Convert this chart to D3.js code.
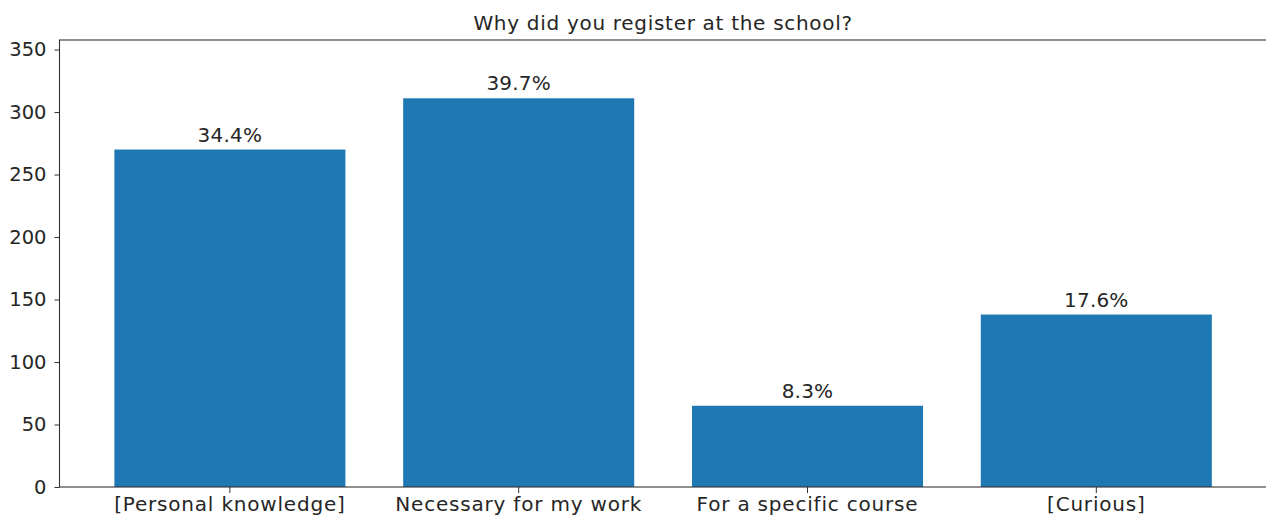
<!DOCTYPE html>
<html>
<head>
<meta charset="utf-8">
<script src="https://cdn.jsdelivr.net/npm/d3@7"></script>
<style>
  html, body { margin: 0; padding: 0; background: #fff; }
  svg { display: block; font-family: "DejaVu Sans", sans-serif; }
  .axis text { font-family: "DejaVu Sans", sans-serif; font-size: 20px; fill: #262626; }
  .axis--x text { letter-spacing: 0.8px; }
  .axis--y text { font-size: 19.5px; }
  .axis path, .axis line { stroke: #333; }
</style>
</head>
<body>
<svg id="chart" width="1266" height="517"></svg>
<script>
const categories = ['[Personal knowledge]', 'Necessary for my work', 'For a specific course', '[Curious]']
const counts = [270, 311, 65, 138]
const yTicks = [0, 50, 100, 150, 200, 250, 300, 350]
const title = 'Why did you register at the school?'

const svg = d3.select('#chart')
const margins = {top: 40, left: 59.5, bottom: 30}
const plotRight = 1266.7
const height = 517 - margins.top - margins.bottom

const total = d3.sum(counts)
const data = categories.map((c, i) => ({category: c, value: counts[i]}))

const x = d3.scaleBand()
  .domain(categories)
  .range([margins.left, plotRight])
  .paddingInner(0.2)
  .paddingOuter(0.19)

const y = d3.scaleLinear()
  .domain([0, d3.max(counts) * 1.15])
  .range([margins.top + height, margins.top])

// bars
svg.selectAll('.bar')
  .data(data)
  .enter()
  .append('rect')
  .attr('class', 'bar')
  .attr('x', (d) => x(d.category))
  .attr('y', (d) => y(d.value))
  .attr('width', x.bandwidth())
  .attr('height', (d) => y(0) - y(d.value))
  .attr('fill', '#1f77b4')

// percentage labels
svg.selectAll('.pct')
  .data(data)
  .enter()
  .append('text')
  .attr('class', 'pct')
  .attr('x', (d) => x(d.category) + x.bandwidth() / 2)
  .attr('y', (d) => y(d.value) - 8)
  .attr('text-anchor', 'middle')
  .style('font-size', '20px')
  .style('letter-spacing', '0.2px')
  .style('fill', '#262626')
  .text((d) => (d.value / total * 100).toFixed(1) + '%')

// axes
svg.append('g')
  .attr('class', 'axis axis--x')
  .attr('transform', `translate(0, ${y(0)})`)
  .call(d3.axisBottom(x).tickSize(6).tickPadding(4).tickSizeOuter(0))
  .attr('font-family', null)
  .attr('font-size', null)

svg.append('g')
  .attr('class', 'axis axis--y')
  .attr('transform', `translate(${margins.left}, 0)`)
  .call(d3.axisLeft(y).tickValues(yTicks).tickSize(5).tickPadding(8).tickSizeOuter(0))
  .attr('font-family', null)
  .attr('font-size', null)

svg.selectAll('.axis path').remove()

// frame
svg.append('rect')
  .attr('x', margins.left)
  .attr('y', margins.top)
  .attr('width', plotRight - margins.left)
  .attr('height', height)
  .attr('fill', 'none')
  .attr('stroke', '#333')
  .attr('stroke-width', 1.1)

svg.append('text')
  .attr('x', (margins.left + plotRight) / 2)
  .attr('y', 30)
  .attr('text-anchor', 'middle')
  .style('font-size', '20px')
  .style('letter-spacing', '0.7px')
  .style('fill', '#262626')
  .text(title)
</script>
</body>
</html>
